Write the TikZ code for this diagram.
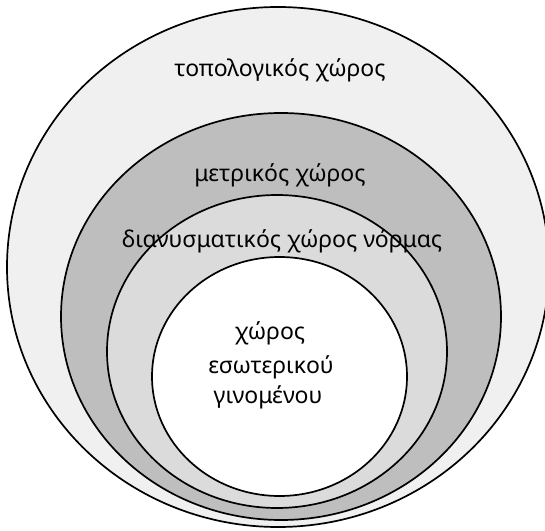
\documentclass[tikz,border=0pt]{standalone}
\usepackage{fontspec}
\setmainfont{Noto Sans}
\definecolor{ringA}{HTML}{F0F0F0}
\definecolor{ringB}{HTML}{BEBEBE}
\definecolor{ringC}{HTML}{DBDBDB}
\begin{document}
\begin{tikzpicture}[x=1pt,y=1pt,
  ring/.style={draw=black,line width=1.7pt},
  lbl/.style={font=\fontsize{23}{31}\selectfont,inner sep=0pt,anchor=base}]
\useasboundingbox (0,0) rectangle (545,530);
\clip (0,0) rectangle (545,530);
\fill[white] (0,0) rectangle (545,530);
\draw[ring,fill=ringA] (278,263) ellipse [x radius=271, y radius=260];
\draw[ring,fill=ringB] (281,213.5) ellipse [x radius=220, y radius=203.5];
\draw[ring,fill=ringC] (277,178.5) ellipse [x radius=170, y radius=156.5];
\draw[ring,fill=white] (279.5,153.5) ellipse [x radius=127.5, y radius=119.5];
\node[lbl] (top) at (280,453) {τοπολογικός χώρος};
\node[lbl] (met) at (280,348) {μετρικός χώρος};
\node[lbl] (nor) at (282,282) {διανυσματικός χώρος νόρμας};
\node[lbl] (inn1) at (270,190) {χώρος};
\node[lbl] (inn2) at (271,157) {εσωτερικού};
\node[lbl] (inn3) at (268,127) {γινομένου};
\end{tikzpicture}
\end{document}
